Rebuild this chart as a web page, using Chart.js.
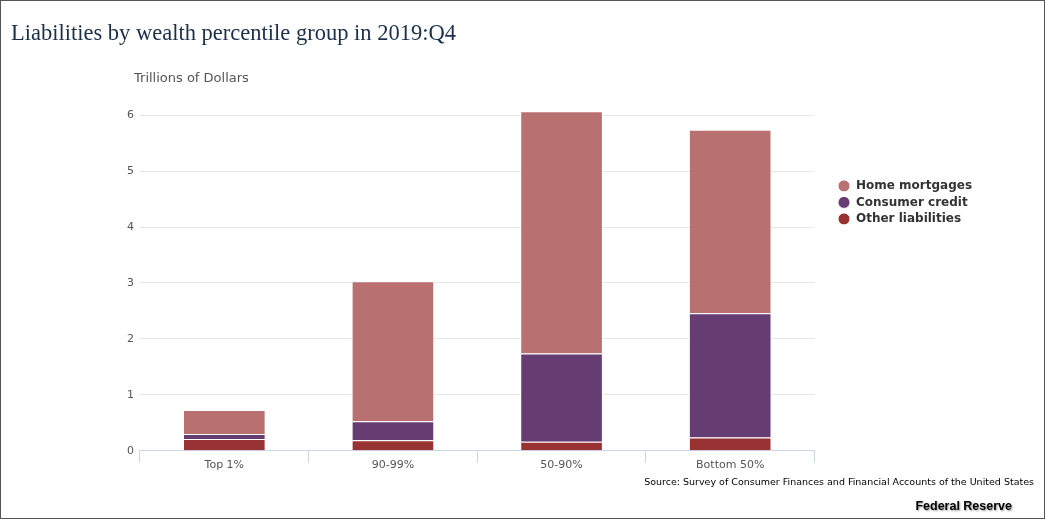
<!DOCTYPE html>
<html>
<head>
<meta charset="utf-8">
<script src="https://cdn.jsdelivr.net/npm/chart.js@4/dist/chart.umd.min.js"></script>
<style>
  html, body { margin: 0; padding: 0; background: #fff; }
  #frame { position: relative; width: 1043px; height: 517px; border: 1px solid #555; overflow: hidden; }
  #title { position: absolute; left: 10px; top: 19px; font-family: "Liberation Serif", serif; font-size: 22.5px; color: #1b2f4b; white-space: nowrap; }
  #ytitle { position: absolute; left: 133px; top: 69px; font-family: "DejaVu Sans", sans-serif; font-size: 13px; color: #555; }
  #source { position: absolute; right: 10px; top: 475px; font-family: "DejaVu Sans", sans-serif; font-size: 9.5px; color: #000; }
  #brand { position: absolute; right: 32px; top: 498px; font-family: "Liberation Sans", Arial, sans-serif; font-weight: bold; font-size: 12.5px; color: #000; text-shadow: 1px 1px 2px #999; }
  canvas { position: absolute; left: 0; top: 0; }
</style>
</head>
<body>
<div id="frame">
  <canvas id="liabChart" width="1043" height="517"></canvas>
  <div id="title">Liabilities by wealth percentile group in 2019:Q4</div>
  <div id="ytitle">Trillions of Dollars</div>
  <div id="source">Source: Survey of Consumer Finances and Financial Accounts of the United States</div>
  <div id="brand">Federal Reserve</div>
</div>
<script>
const groups = ["Top 1%", "90-99%", "50-90%", "Bottom 50%"];
const homeMortgages = [0.43, 2.5, 4.33, 3.28];
const consumerCredit = [0.09, 0.34, 1.58, 2.22];
const otherLiabilities = [0.21, 0.19, 0.16, 0.24];
const yTicks = [0, 1, 2, 3, 4, 5, 6];

const ctx = document.getElementById("liabChart").getContext("2d");

// legend text slightly overruns its measured box, widen the clip area
const legendRoom = {
  id: "legendRoom",
  afterLayout(chart) { chart.legend.right += 30; }
};

new Chart(ctx, {
  type: "bar",
  data: {
    labels: groups,
    datasets: [
      { label: "Other liabilities", data: otherLiabilities, backgroundColor: "#993333" },
      { label: "Consumer credit", data: consumerCredit, backgroundColor: "#663d73" },
      { label: "Home mortgages", data: homeMortgages, backgroundColor: "#b87070" }
    ]
  },
  plugins: [legendRoom],
  options: {
    responsive: false,
    animation: false,
    layout: { padding: { left: 120, top: 103, bottom: 44, right: 68 } },
    datasets: {
      bar: {
        borderColor: "#ffffff",
        borderWidth: 1,
        categoryPercentage: 1,
        barPercentage: 0.49
      }
    },
    scales: {
      x: {
        stacked: true,
        grid: { display: true, drawOnChartArea: false, drawTicks: true, tickLength: 12, color: "#ccd6eb", offset: true },
        border: { display: true, color: "#ccd6eb" },
        ticks: { color: "#555", font: { family: "DejaVu Sans", size: 11 }, padding: -4 },
        afterFit: (scale) => { scale.height += 6; }
      },
      y: {
        stacked: true,
        min: 0,
        max: 6.2,
        afterBuildTicks: (axis) => { axis.ticks = yTicks.map(v => ({ value: v })); },
        ticks: { color: "#555", font: { family: "DejaVu Sans", size: 11 }, padding: 6 },
        grid: { color: "#e6e6e6", drawTicks: false },
        border: { display: false }
      },
      gap: {
        type: "linear",
        position: "right",
        display: true,
        grid: { display: false },
        border: { display: false },
        ticks: { display: false },
        afterFit: (scale) => { scale.width = 19; }
      }
    },
    plugins: {
      tooltip: { enabled: false },
      legend: {
        position: "right",
        align: "start",
        reverse: true,
        title: { display: true, text: "", padding: { top: 57, bottom: 0 } },
        labels: {
          usePointStyle: true,
          pointStyle: "circle",
          boxWidth: 14,
          boxHeight: 8.5,
          padding: 4.5,
          color: "#333",
          font: { family: "DejaVu Sans", size: 12, weight: "bold" }
        }
      }
    }
  }
});
</script>
</body>
</html>
